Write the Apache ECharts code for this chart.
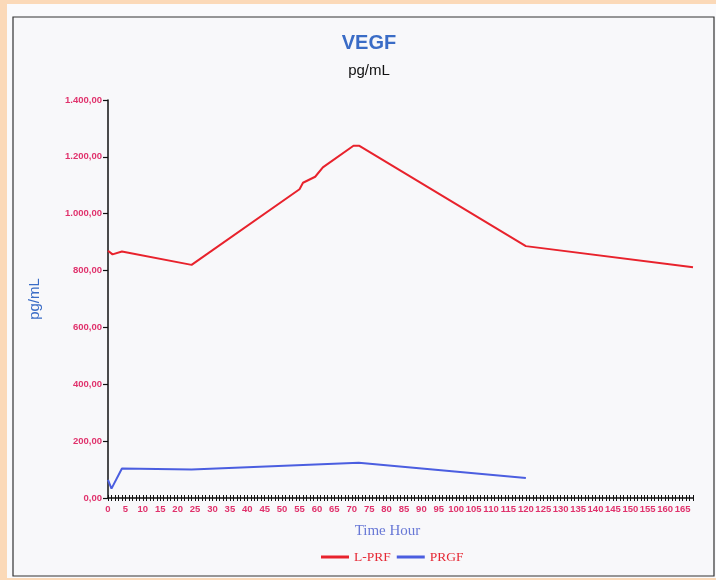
<!DOCTYPE html>
<html>
<head>
<meta charset="utf-8">
<script src="https://cdn.jsdelivr.net/npm/echarts@6/dist/echarts.min.js"></script>
<style>
html,body{margin:0;padding:0;background:#fbd9b8;}
#chart{width:716px;height:580px;}
</style>
</head>
<body>
<div id="chart"></div>
<script>
const lprfHours = [0, 1.3, 4, 24, 55, 56, 59.5, 61.7, 70.5, 72.2, 120, 168];
const lprfValues = [870, 857, 867, 820, 1086, 1109, 1130, 1163, 1239, 1239, 886, 812];
const prgfHours = [0, 1, 4, 24, 72, 120];
const prgfValues = [64, 33, 104, 100, 124, 70];
const seriesNames = ['L-PRF', 'PRGF'];

function pair(xs, ys) { return xs.map((x, i) => [x, ys[i]]); }
function fmt(v) {
  const s = Math.round(v).toString().replace(/\B(?=(\d{3})+(?!\d))/g, '.');
  return s + ',00';
}

const chart = echarts.init(document.getElementById('chart'), null, {renderer: 'canvas'});
const pink = '#e0326c';
const labelFont = {color: pink, fontSize: 9.5, fontWeight: 'bold', fontFamily: 'Liberation Sans'};

chart.setOption({
  backgroundColor: '#fbd9b8',
  animation: false,
  graphic: [
    {type: 'rect', z: -10, shape: {x: 7, y: 4, width: 709, height: 574}, style: {fill: '#fafafc'}},
    {type: 'rect', z: -9, shape: {x: 13, y: 17, width: 701, height: 559}, style: {fill: '#f8f8fa', stroke: '#333', lineWidth: 1.2}}
  ],
  title: [
    {text: 'VEGF', left: 364, top: 28, textAlign: 'center',
     textStyle: {color: '#3a6cc6', fontSize: 20, fontWeight: 'bold', fontFamily: 'Liberation Sans'}},
    {text: 'pg/mL', left: 364, top: 58, textAlign: 'center',
     textStyle: {color: '#111', fontSize: 15, fontWeight: 'normal', fontFamily: 'Liberation Sans'}}
  ],
  legend: {
    top: 545, left: 316, itemGap: 6, itemWidth: 28, itemHeight: 3,
    icon: 'rect',
    data: seriesNames,
    textStyle: {color: '#e62a36', fontSize: 13.5, fontFamily: 'Liberation Serif'}
  },
  grid: {left: 108, right: 23, top: 100, bottom: 82, containLabel: false},
  xAxis: [
    {
      type: 'value', min: 0, max: 168, interval: 5,
      name: 'Time Hour', nameLocation: 'middle', nameGap: 26,
      nameTextStyle: {color: '#6878d6', fontSize: 15, fontFamily: 'Liberation Serif', padding: [0, 26, 0, 0]},
      axisLine: {show: true, lineStyle: {color: '#111', width: 1.5}},
      axisTick: {show: true, inside: false, length: 3, lineStyle: {color: '#111', width: 1}},
      minorTick: {show: true, splitNumber: 5, length: 3, lineStyle: {color: '#111', width: 1}},
      splitLine: {show: false},
      axisLabel: Object.assign({margin: 6, showMaxLabel: false,
        formatter: v => (v % 5 === 0 ? String(v) : '')}, labelFont)
    },
    {
      type: 'value', min: 0, max: 168, interval: 5, position: 'bottom',
      axisLine: {show: false},
      axisTick: {show: true, inside: true, length: 3, lineStyle: {color: '#111', width: 1}},
      minorTick: {show: true, splitNumber: 5, length: 3, lineStyle: {color: '#111', width: 1}},
      splitLine: {show: false},
      axisLabel: {show: false}
    }
  ],
  yAxis: {
    type: 'value', min: 0, max: 1400, interval: 200,
    name: 'pg/mL', nameLocation: 'middle', nameGap: 66, nameRotate: 90,
    nameTextStyle: {color: '#3a6cc6', fontSize: 15, fontFamily: 'Liberation Sans'},
    axisLine: {show: true, lineStyle: {color: '#111', width: 1.5}},
    axisTick: {show: true, length: 5, lineStyle: {color: '#111', width: 1.2}},
    splitLine: {show: false},
    axisLabel: Object.assign({margin: 6, formatter: fmt}, labelFont)
  },
  series: [
    {name: seriesNames[0], type: 'line', data: pair(lprfHours, lprfValues),
     showSymbol: false, symbol: 'none', color: '#e8222c', lineStyle: {color: '#e8222c', width: 2}},
    {name: seriesNames[1], type: 'line', data: pair(prgfHours, prgfValues),
     showSymbol: false, symbol: 'none', color: '#4b5ee0', lineStyle: {color: '#4b5ee0', width: 2}}
  ]
});
</script>
</body>
</html>
